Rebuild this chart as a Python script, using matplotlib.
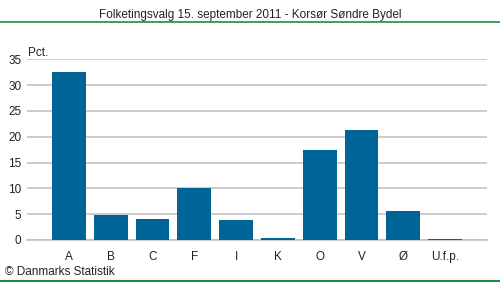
import matplotlib
matplotlib.use("Agg")
import matplotlib.pyplot as plt
from matplotlib.lines import Line2D

categories = ["A", "B", "C", "F", "I", "K", "O", "V", "Ø", "U.f.p."]
values = [32.5, 4.9, 4.1, 10.1, 3.9, 0.4, 17.4, 21.3, 5.6, 0.2]
yticks = [0, 5, 10, 15, 20, 25, 30, 35]

plt.rcParams['font.family'] = ['Liberation Sans', 'DejaVu Sans']

W, H = 500, 282
fig = plt.figure(figsize=(W/100, H/100), dpi=100)
ax = fig.add_axes([27/W, 1-240/H, (487-27)/W, (240-59.3)/H])

x = list(range(len(categories)))
ax.bar(x, values, width=0.81, color="#006496", zorder=3)
ax.set_xlim(-1, 10)
ax.set_ylim(0, 35)
ax.set_yticks(yticks)
ax.set_xticks(x)
ax.set_xticklabels(categories)
ax.yaxis.grid(True, color="#bebec8", linewidth=1.1, zorder=0)
for s in ["top", "right", "left"]:
    ax.spines[s].set_visible(False)
ax.spines["bottom"].set_color("#bebec8")
ax.spines["bottom"].set_linewidth(1.1)
ax.tick_params(axis="both", length=0, labelsize=8.5, colors="#222222")
ax.tick_params(axis="x", pad=8)
ax.tick_params(axis="y", pad=4)

ax.text(0.003, 35.1, "Pct.", fontsize=8.5, color="#222222", ha="left", va="bottom",
        transform=ax.get_yaxis_transform())

fig.text(0.5, 1-15/H, "Folketingsvalg 15. september 2011 - Korsør Søndre Bydel",
         ha="center", va="center", fontsize=8.5, color="#222222")
fig.add_artist(Line2D([0, 1], [1-22/H, 1-22/H], transform=fig.transFigure,
                      color="#1f8a4c", linewidth=1.2))
fig.add_artist(Line2D([0, 1], [1-281/H, 1-281/H], transform=fig.transFigure,
                      color="#1f8a4c", linewidth=1.5))
fig.text(5/W, 1-272/H, "© Danmarks Statistik", ha="left", va="center",
         fontsize=8.5, color="#222222")

fig.savefig("out.png", dpi=100, facecolor="white")
